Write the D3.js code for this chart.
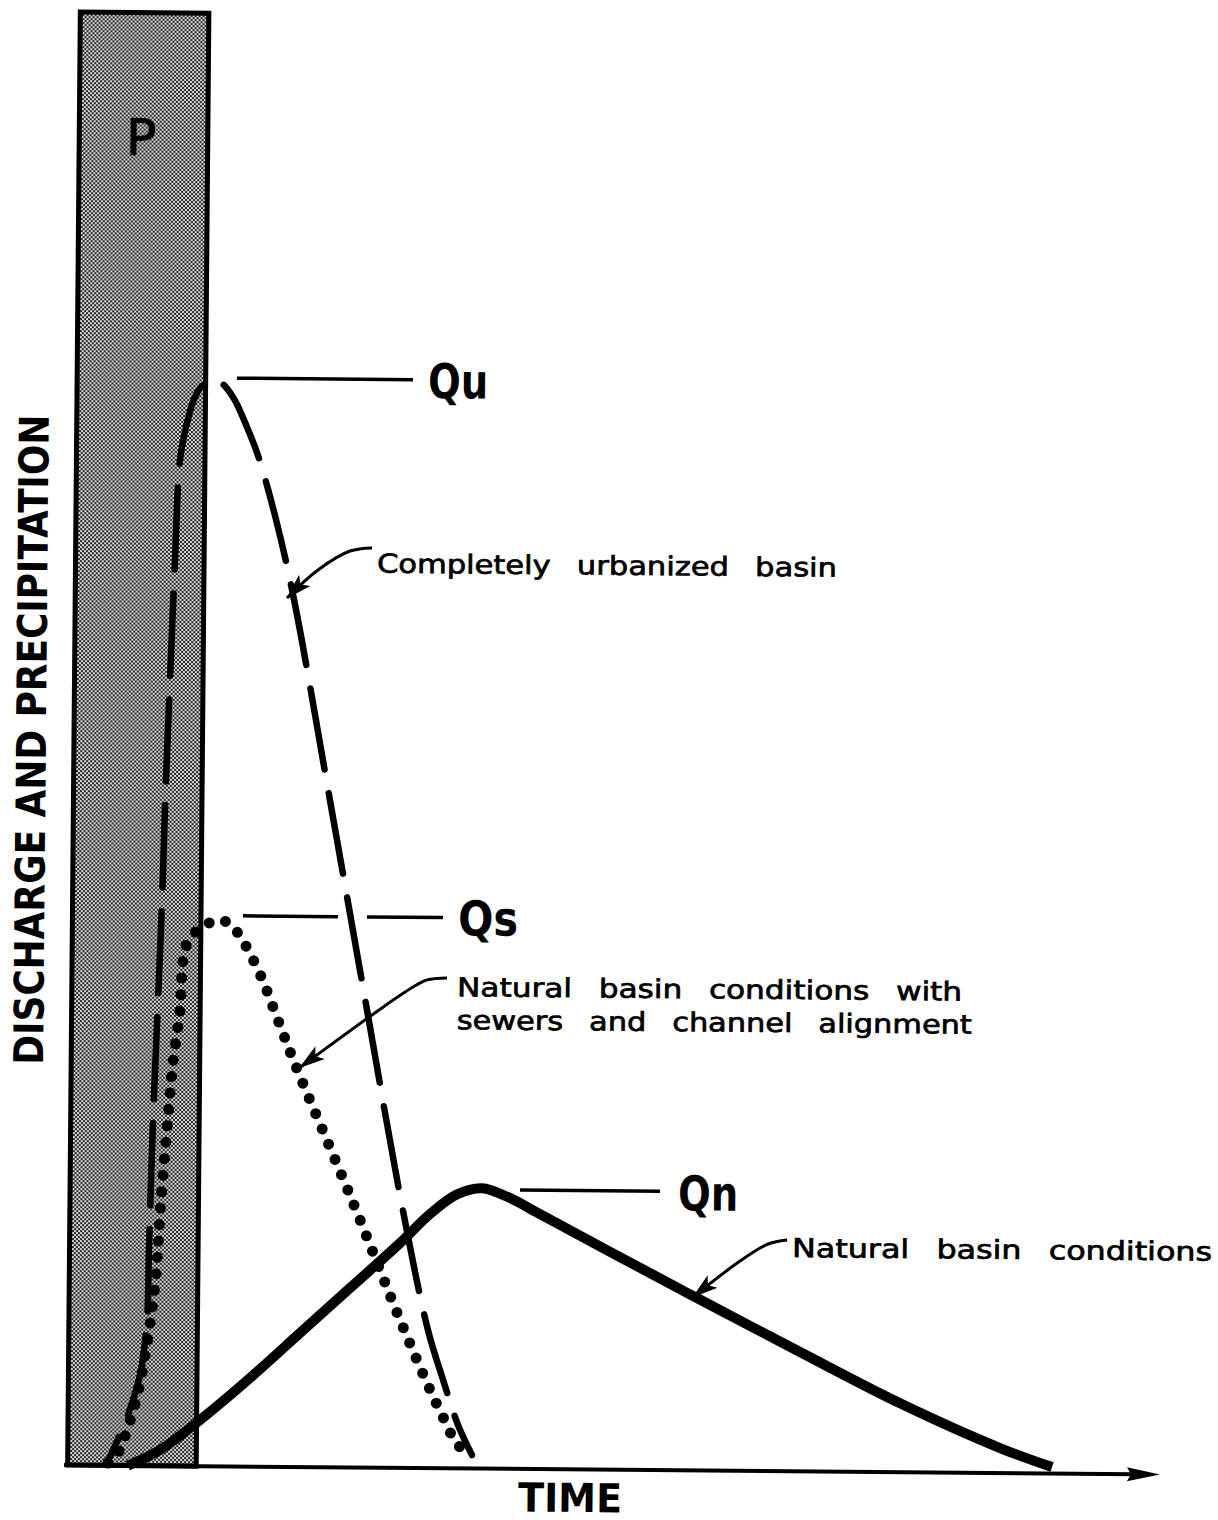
<!DOCTYPE html>
<html>
<head>
<meta charset="utf-8">
<script src="https://cdn.jsdelivr.net/npm/d3@7"></script>
<style>
  body { margin: 0; background: #fff; }
  svg { display: block; }
  text { font-family: "DejaVu Sans", "Liberation Sans", sans-serif; fill: #000; }
</style>
</head>
<body>
<svg id="chart" width="1218" height="1520"></svg>
<script>
// Hydrograph: time and discharge in arbitrary units
const rainSpan = [0.015, 1.19];   // precipitation start / end
const rainTop = 100;

// Qu - completely urbanized basin
const urbanFlow = [
  [0.375, 0.16], [0.509, 2.44], [0.607, 4.51], [0.678, 6.58], [0.729, 10.03],
  [0.741, 14.85], [0.768, 23.8], [0.804, 32.06], [0.833, 38.94], [0.859, 47.2],
  [0.888, 54.09], [0.924, 62.35], [0.962, 69.24], [1.023, 71.79], [1.094, 73.58],
  [1.166, 74.41], [1.257, 74.69], [1.321, 74.63], [1.441, 73.6], [1.571, 71.55],
  [1.674, 69.6], [1.844, 65.2], [2.015, 59.7], [2.36, 45.9], [2.715, 31.5],
  [3.041, 18.4], [3.298, 9.5], [3.44, 6.08], [3.58, 2.99], [3.71, 0.93]
];
const urbanPeakIndex = 16;

// Qs - natural basin with sewers and channel alignment
const seweredFlow = [
  [0.384, 0.16], [0.474, 0.86], [0.564, 2.65], [0.67, 5.69], [0.799, 12.44],
  [0.847, 18.3], [0.905, 24.0], [0.946, 27.8], [1.006, 31.4], [1.029, 34.8],
  [1.073, 36.1], [1.164, 36.9], [1.291, 37.46], [1.428, 37.47], [1.53, 36.7],
  [1.613, 35.7], [1.752, 33.6], [1.884, 31.1], [2.052, 27.9], [2.593, 18.4],
  [3.041, 10.2], [3.293, 5.86], [3.433, 3.67], [3.581, 1.61], [3.71, 0.93]
];

// Qn - natural basin conditions
const naturalFlow = [
  [0.566, 0], [0.858, 1.09], [1.221, 3.18], [1.675, 6.1], [2.128, 9.22],
  [2.582, 12.35], [3.036, 15.48], [3.307, 17.49], [3.55, 18.85], [3.78, 19.3],
  [4.02, 18.7], [4.3, 17.6], [4.9, 15.22], [5.736, 11.94], [6.7, 8.22],
  [7.619, 4.75], [8.536, 1.73], [9.013, 0.45]
];

// peak labels and their leader lines (segments in time units)
const peakNames = ["Qu", "Qs", "Qn"];
const peakLeaders = [
  [[1.476, 3.085]],
  [[1.574, 2.442], [2.707, 3.402]],
  [[4.128, 5.408]]
];
const peakLeaderQ = [74.9, 37.9, 19.2];
const peakLabelAt = [[3.224, 73.65], [3.541, 36.7], [5.574, 17.9]];

// curve descriptions with their pointer arrows
const noteLines = [
  ["Completely urbanized basin"],
  ["Natural basin conditions with", "sewers and channel alignment"],
  ["Natural basin conditions"]
];
const noteAt = [[2.771, 61.6], [3.537, 32.5], [6.62, 14.75]];
const noteArrows = [
  [[2.724, 63.3], [2.523, 63.07], [2.232, 61.75], [1.951, 59.8]],
  [[3.444, 33.75], [3.262, 33.6], [3.134, 33.1], [2.861, 31.7], [2.107, 27.5]],
  [[6.573, 15.92], [6.4, 15.63], [6.145, 14.44], [5.718, 11.94]]
];
const noteWidths = [[460], [505, 515], [420]];

const svg = d3.select("#chart");
const x = d3.scaleLinear().domain([0, 10]).range([66, 1160]);
const y = d3.scaleLinear().domain([0, 100]).range([1465, 12]);

// the scanned figure sits slightly rotated on the page
const g = svg.append("g")
  .attr("transform", `rotate(0.5, ${x(0)}, ${y(0)})`);

const defs = svg.append("defs");

// halftone screen for the precipitation bar
const pat = defs.append("pattern")
  .attr("id", "halftone")
  .attr("width", 4)
  .attr("height", 4)
  .attr("patternUnits", "userSpaceOnUse");
pat.append("rect").attr("width", 4).attr("height", 4).attr("fill", "#d4d4d4");
pat.append("rect").attr("width", 2).attr("height", 2).attr("fill", "#2c2c2c");
pat.append("rect").attr("x", 2).attr("y", 2).attr("width", 2).attr("height", 2).attr("fill", "#2c2c2c");

defs.append("marker")
  .attr("id", "axis-head")
  .attr("markerUnits", "userSpaceOnUse")
  .attr("viewBox", "-10 -8 36 16")
  .attr("markerWidth", 36)
  .attr("markerHeight", 16)
  .attr("refX", 0)
  .attr("refY", 0)
  .attr("orient", "auto")
  .append("path")
  .attr("d", "M25,0 L-8,-7 L-4,0 L-8,7 Z")
  .attr("fill", "#000");

defs.append("marker")
  .attr("id", "note-head")
  .attr("markerUnits", "userSpaceOnUse")
  .attr("viewBox", "-28 -9 30 18")
  .attr("markerWidth", 30)
  .attr("markerHeight", 18)
  .attr("refX", 0)
  .attr("refY", 0)
  .attr("orient", "auto")
  .append("path")
  .attr("d", "M1,0 L-25,-8 L-19,0 L-25,8 Z")
  .attr("fill", "#000");

// PRECIPITATION BAR
g.append("rect")
  .attr("x", x(rainSpan[0]))
  .attr("y", y(rainTop))
  .attr("width", x(rainSpan[1]) - x(rainSpan[0]))
  .attr("height", y(0) - y(rainTop))
  .attr("fill", "url(#halftone)")
  .attr("stroke", "#000")
  .attr("stroke-width", 5);

g.append("text")
  .attr("x", x(0.581))
  .attr("y", y(90.2))
  .attr("text-anchor", "middle")
  .attr("stroke", "#000")
  .attr("stroke-width", 1)
  .style("font-size", "50px")
  .text("P");

// TIME AXIS
g.append("line")
  .attr("x1", x(0) - 2)
  .attr("y1", y(0))
  .attr("x2", x(10) - 25)
  .attr("y2", y(0))
  .attr("stroke", "#000")
  .attr("stroke-width", 4)
  .attr("marker-end", "url(#axis-head)");

g.append("text")
  .attr("x", x(4.61))
  .attr("y", y(-2.93))
  .attr("text-anchor", "middle")
  .attr("textLength", 104)
  .attr("lengthAdjust", "spacingAndGlyphs")
  .style("font-size", "40px")
  .style("font-weight", "bold")
  .text("TIME");

g.append("text")
  .attr("transform", `translate(${x(-0.37)},${y(49.9)}) rotate(-90)`)
  .attr("text-anchor", "middle")
  .attr("dominant-baseline", "central")
  .attr("textLength", 650)
  .attr("lengthAdjust", "spacingAndGlyphs")
  .style("font-size", "41px")
  .style("font-weight", "bold")
  .text("DISCHARGE AND PRECIPITATION");

// HYDROGRAPHS
const line = d3.line()
  .x(d => x(d[0]))
  .y(d => y(d[1]))
  .curve(d3.curveCatmullRom.alpha(0.5));

g.append("path")
  .attr("d", line(naturalFlow))
  .attr("fill", "none")
  .attr("stroke", "#000")
  .attr("stroke-width", 10)
  .attr("stroke-linejoin", "round");

g.append("path")
  .attr("d", line(seweredFlow))
  .attr("fill", "none")
  .attr("stroke", "#000")
  .attr("stroke-width", 11)
  .attr("stroke-linecap", "round")
  .attr("stroke-dasharray", "0 16.5");

// put a dash gap right at the urban peak, like the original
const dashPeriod = 106;
const rise = g.append("path").attr("d", line(urbanFlow.slice(0, urbanPeakIndex + 1)));
const riseLen = rise.node().getTotalLength();
rise.remove();
const dashOffset = (((94 - riseLen) % dashPeriod) + dashPeriod) % dashPeriod;

g.append("path")
  .attr("d", line(urbanFlow))
  .attr("fill", "none")
  .attr("stroke", "#000")
  .attr("stroke-width", 6.5)
  .attr("stroke-linecap", "round")
  .attr("stroke-dasharray", "82 24")
  .attr("stroke-dashoffset", dashOffset);

// PEAK LABELS
peakNames.forEach((name, i) => {
  peakLeaders[i].forEach(seg => {
    g.append("line")
      .attr("x1", x(seg[0]))
      .attr("x2", x(seg[1]))
      .attr("y1", y(peakLeaderQ[i]))
      .attr("y2", y(peakLeaderQ[i]))
      .attr("stroke", "#000")
      .attr("stroke-width", 3.5);
  });
  g.append("text")
    .attr("x", x(peakLabelAt[i][0]))
    .attr("y", y(peakLabelAt[i][1]))
    .attr("textLength", 60)
    .attr("lengthAdjust", "spacingAndGlyphs")
    .style("font-size", "48px")
    .style("font-weight", "bold")
    .text(name);
});

// NOTES WITH ARROWS
const arrowLine = d3.line()
  .x(d => x(d[0]))
  .y(d => y(d[1]))
  .curve(d3.curveCatmullRom.alpha(0.5));

noteLines.forEach((lines, i) => {
  lines.forEach((txt, j) => {
    g.append("text")
      .attr("x", x(noteAt[i][0]))
      .attr("y", y(noteAt[i][1]) + j * 33)
      .attr("textLength", noteWidths[i][j])
      .attr("lengthAdjust", "spacingAndGlyphs")
      .attr("stroke", "#000")
      .attr("stroke-width", 0.7)
      .style("font-size", "26px")
      .style("word-spacing", "14px")
      .text(txt);
  });
  g.append("path")
    .attr("d", arrowLine(noteArrows[i]))
    .attr("fill", "none")
    .attr("stroke", "#000")
    .attr("stroke-width", 3)
    .attr("marker-end", "url(#note-head)");
});
</script>
</body>
</html>
